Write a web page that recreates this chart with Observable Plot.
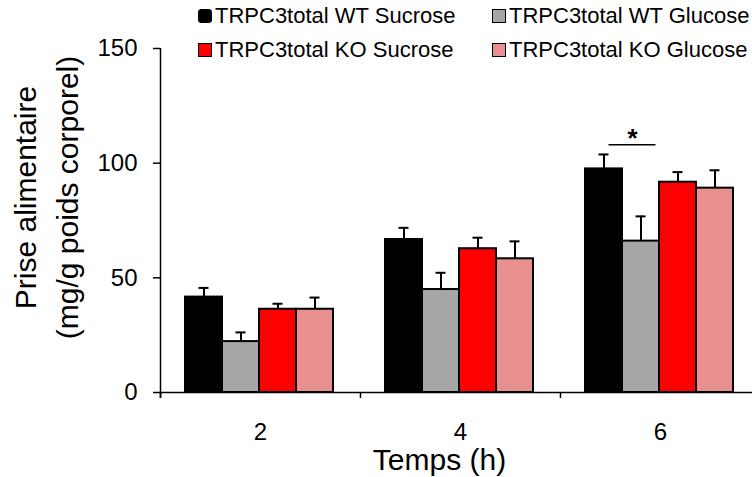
<!DOCTYPE html>
<html>
<head>
<meta charset="utf-8">
<script src="https://cdn.jsdelivr.net/npm/d3@7"></script>
<script src="https://cdn.jsdelivr.net/npm/@observablehq/plot@0.6"></script>
<style>
  html, body { margin: 0; padding: 0; background: #fff; }
  #wrap { position: relative; width: 752px; height: 477px; overflow: hidden; font-family: "Liberation Sans", Arial, sans-serif; }
  #wrap svg g[aria-label="y-axis tick label"], #wrap svg g[aria-label="x-axis tick label"] { font-size: 24px; }
  #legend { position: absolute; left: 0; top: 0; width: 752px; height: 70px; }
  .item { position: absolute; display: flex; align-items: center; font-size: 22px; color: #000; white-space: nowrap; line-height: 1; }
  .sw { width: 12px; height: 12px; border: 1.5px solid #000; margin-right: 3px; box-sizing: content-box; }
</style>
</head>
<body>
<div id="wrap"><div id="legend"></div></div>
<script>
// ---- data ----
const times = [2, 4, 6];
const series = ["TRPC3total WT Sucrose", "TRPC3total WT Glucose", "TRPC3total KO Sucrose", "TRPC3total KO Glucose"];
const colors = ["#000000", "#a6a6a6", "#ff0000", "#e8908f"];
const wtSucrose = [41.6, 66.7, 97.5];
const wtSucroseErr = [4.0, 5.1, 6.3];
const wtGlucose = [22.2, 44.9, 66.0];
const wtGlucoseErr = [4.0, 7.3, 10.8];
const koSucrose = [36.3, 62.7, 91.7];
const koSucroseErr = [2.4, 4.8, 4.4];
const koGlucose = [36.3, 58.3, 89.1];
const koGlucoseErr = [5.1, 7.6, 7.8];
const yTicks = [0, 50, 100, 150];
const sigTime = 6;
const sigLevel = 108;
const sigLabel = "*";
const yTitle = "Prise alimentaire\n(mg/g poids corporel)";
const xTitle = "Temps (h)";

// ---- table ----
const values = [wtSucrose, wtGlucose, koSucrose, koGlucose];
const errs = [wtSucroseErr, wtGlucoseErr, koSucroseErr, koGlucoseErr];
const rows = [];
series.forEach((s, i) => times.forEach((t, j) => rows.push({series: s, i, time: t, value: values[i][j], err: errs[i][j]})));

// layout inside each time group (x units = hours)
const groupStart = -0.75, barW = 0.37, capHalf = 0.05;
const left = d => d.time + groupStart + barW * d.i;
const center = d => left(d) + barW / 2;

const sig = [{time: sigTime, y: sigLevel, label: sigLabel}];
const sigX1 = d => d.time + groupStart + barW * 0.5 + 0.05;
const sigX2 = d => d.time + groupStart + barW * 1.5 + 0.15;

const chart = Plot.plot({
  width: 752,
  height: 477,
  marginLeft: 160,
  marginRight: 0,
  marginTop: 48,
  marginBottom: 85,
  style: {fontFamily: "'Liberation Sans', Arial, sans-serif", fontSize: "22px", background: "white", color: "black"},
  x: {domain: [1, 7], range: [160, 760]},
  y: {domain: [0, 150], range: [392, 48]},
  color: {domain: series, range: colors},
  marks: [
    Plot.ruleX(rows, {x: center, y1: "value", y2: d => d.value + d.err, stroke: "black", strokeWidth: 2}),
    Plot.ruleY(rows, {y: d => d.value + d.err, x1: d => center(d) - capHalf, x2: d => center(d) + capHalf, stroke: "black", strokeWidth: 2}),
    Plot.rectY(rows, {x1: left, x2: d => left(d) + barW, y1: 0, y2: "value", fill: "series", stroke: "black", strokeWidth: 2}),
    Plot.ruleY([0], {x1: 1, x2: 7, stroke: "black", strokeWidth: 1.5}),
    Plot.ruleX([1], {y1: -2.6, y2: 150, stroke: "black", strokeWidth: 1.5}),
    Plot.axisY({ticks: yTicks, tickSize: 7, tickPadding: 16, label: null, strokeWidth: 1.5}),
    Plot.axisX({ticks: [1, 3, 5, 7], tickSize: 6, tickFormat: () => "", label: null, strokeWidth: 1.5}),
    Plot.axisX({ticks: times, tickSize: 0, tickPadding: 30, tickFormat: d => String(d), label: null}),
    Plot.ruleY(sig, {y: "y", x1: sigX1, x2: sigX2, stroke: "black", strokeWidth: 1.5}),
    Plot.text(sig, {x: d => (sigX1(d) + sigX2(d)) / 2, y: "y", text: "label", fontSize: 26, fontWeight: "bold", dy: -6}),
    Plot.text([yTitle], {frameAnchor: "left", rotate: -90, fontSize: 30, lineHeight: 1.4, dx: -117, dy: -23, textAnchor: "middle", lineAnchor: "middle"}),
    Plot.text([xTitle], {frameAnchor: "bottom", fontSize: 30, dx: -17, dy: 68, lineAnchor: "middle"})
  ]
});
document.getElementById("wrap").prepend(chart);

// ---- legend ----
const pos = [[198, 16], [492, 16], [198, 50], [492, 50]];
const legend = document.getElementById("legend");
series.forEach((s, i) => {
  const it = document.createElement("div");
  it.className = "item";
  it.style.left = pos[i][0] + "px";
  it.style.top = (pos[i][1] - 11) + "px";
  const sw = document.createElement("span");
  sw.className = "sw";
  sw.style.background = colors[i];
  if (i === 0) sw.style.borderRadius = "3px";
  it.appendChild(sw);
  it.appendChild(document.createTextNode(s));
  legend.appendChild(it);
});
</script>
</body>
</html>
